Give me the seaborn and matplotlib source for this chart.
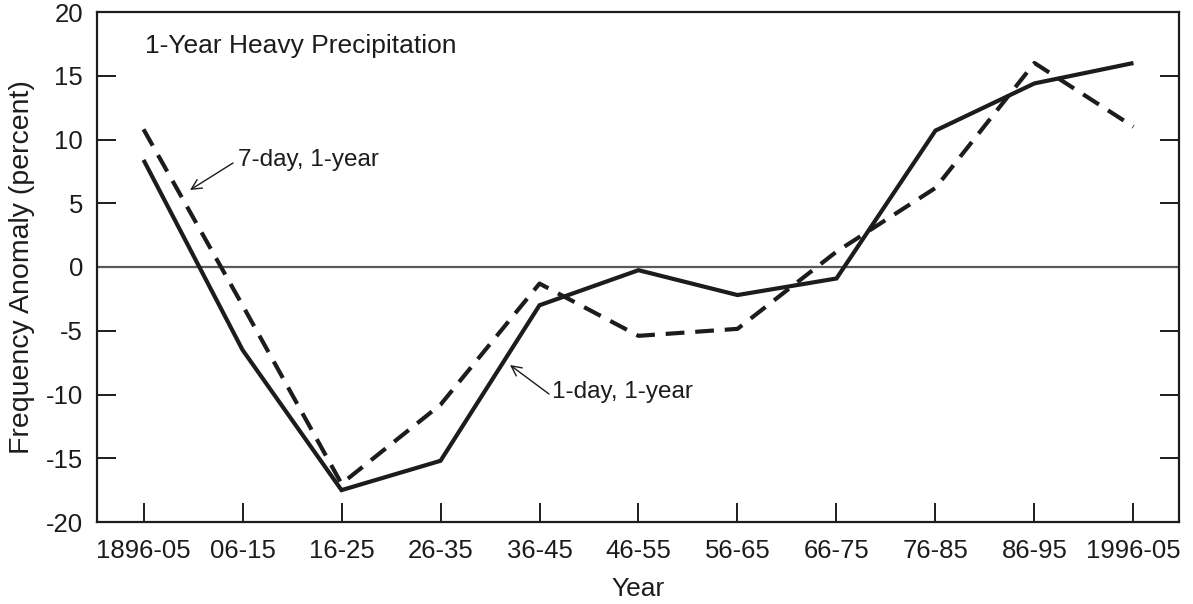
import matplotlib
matplotlib.use("Agg")
import matplotlib.pyplot as plt
import seaborn as sns
import pandas as pd

periods = ["1896-05", "06-15", "16-25", "26-35", "36-45", "46-55",
           "56-65", "66-75", "76-85", "86-95", "1996-05"]
one_day = [8.4, -6.5, -17.5, -15.2, -3.0, -0.25, -2.2, -0.9, 10.7, 14.4, 16.0]
seven_day = [10.8, -3.0, -17.0, -10.8, -1.3, -5.4, -4.85, 1.2, 6.2, 16.0, 11.0]
series_names = ["1-day, 1-year", "7-day, 1-year"]
y_ticks = [-20, -15, -10, -5, 0, 5, 10, 15, 20]

sns.set_theme(style="white")
plt.rcParams["font.family"] = ["Liberation Sans", "DejaVu Sans"]

rows = []
for i, p in enumerate(periods):
    rows.append({"pos": i, "period": p, "value": one_day[i], "series": series_names[0]})
    rows.append({"pos": i, "period": p, "value": seven_day[i], "series": series_names[1]})
df = pd.DataFrame(rows)

W, H = 1193, 604
fig = plt.figure(figsize=(W / 100, H / 100), dpi=100)
ax = fig.add_axes([97 / W, 1 - 522 / H, (1179 - 97) / W, (522 - 12) / H])

ink = "#1c1c1c"
ax.axhline(0, color="#5a5a5a", lw=1.6, zorder=1)

sns.lineplot(data=df, x="pos", y="value", hue="series", style="series",
             palette={series_names[0]: ink, series_names[1]: ink},
             dashes={series_names[0]: "", series_names[1]: (4.5, 2.6)},
             linewidth=3.0, legend=False, ax=ax, zorder=3)
for ln in ax.get_lines():
    ln.set_solid_capstyle("butt")
    ln.set_dash_capstyle("butt")
    ln.set_solid_joinstyle("miter")

ax.set_xlim(-0.47, 10.46)
ax.set_ylim(-20, 20)
ax.set_xticks(range(len(periods)))
ax.set_xticklabels(periods)
ax.set_yticks(y_ticks)
ax.set_yticklabels([str(t) for t in y_ticks])

for s in ax.spines.values():
    s.set_visible(True)
    s.set_color(ink)
    s.set_linewidth(1.6)

ax.tick_params(axis="both", direction="in", length=14, width=1.4, color=ink,
               labelsize=18.5, labelcolor=ink)
ax.tick_params(axis="x", pad=12, bottom=True, top=False)
ax.tick_params(axis="y", pad=10, right=True, left=True)

ax.set_xlabel("Year", fontsize=19, color=ink, labelpad=10)
ax.set_ylabel("Frequency Anomaly (percent)", fontsize=20.5, color=ink, labelpad=8)

def pix(x, y):
    # figure pixel (from top-left) to data coordinates
    inv = ax.transData.inverted()
    return tuple(inv.transform((x, H - y)))

ax.text(*pix(145, 46), "1-Year Heavy Precipitation", fontsize=19,
        color=ink, va="center", ha="left")

ax.text(*pix(238, 160), series_names[1], fontsize=17.5, color=ink,
        va="center", ha="left")
ax.annotate("", xy=pix(190, 190), xytext=pix(233, 163),
            arrowprops=dict(arrowstyle="->,head_length=0.6,head_width=0.3",
                            color=ink, lw=1.0, shrinkA=0, shrinkB=0))
ax.text(*pix(552, 392), series_names[0], fontsize=17.5, color=ink,
        va="center", ha="left")
ax.annotate("", xy=pix(510, 365), xytext=pix(549, 394),
            arrowprops=dict(arrowstyle="->,head_length=0.6,head_width=0.3",
                            color=ink, lw=1.0, shrinkA=0, shrinkB=0))

fig.savefig("out.png", dpi=100, facecolor="white")
